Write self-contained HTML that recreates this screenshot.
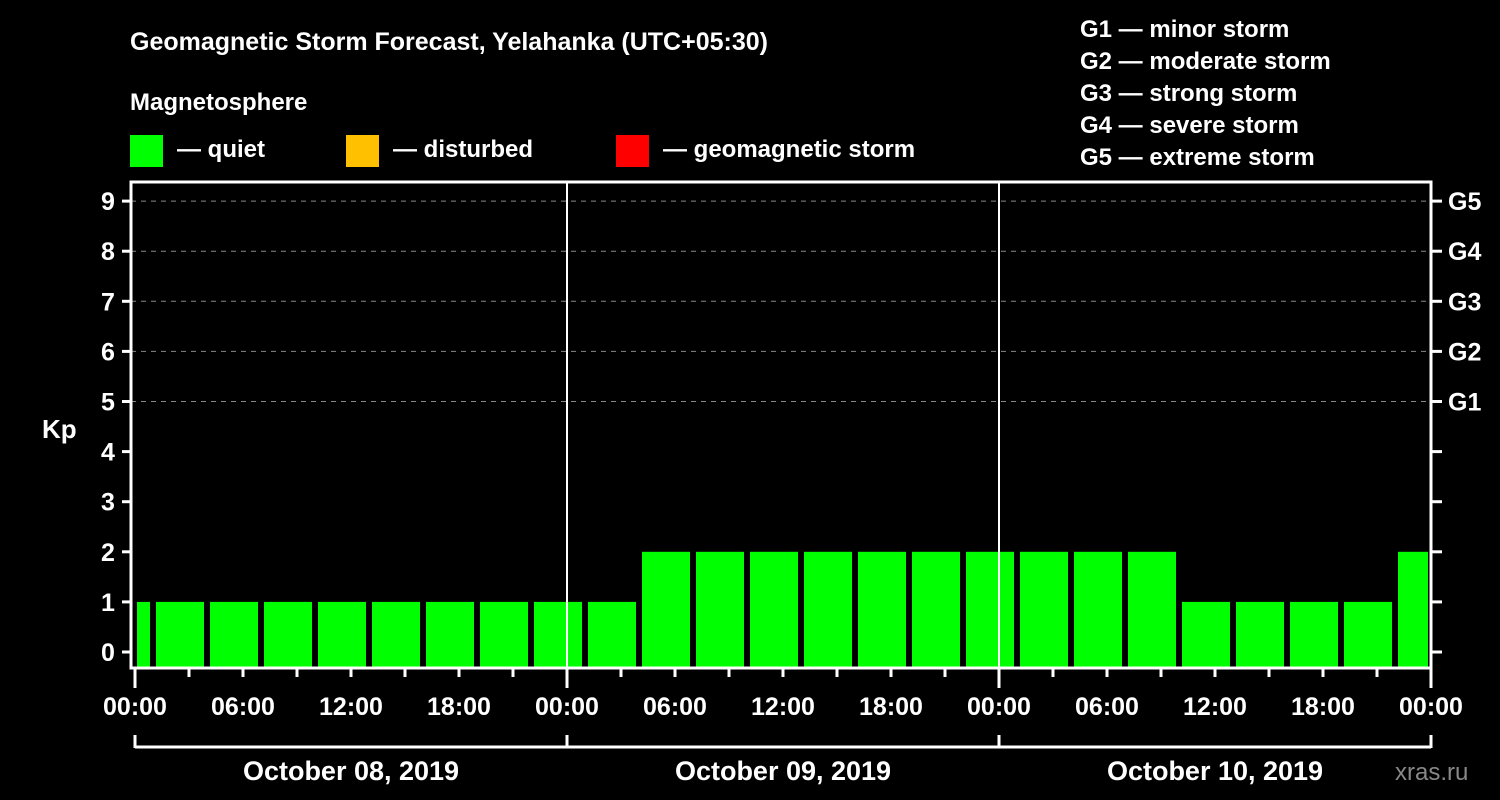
<!DOCTYPE html>
<html><head><meta charset="utf-8"><style>
body{margin:0;background:#000;width:1500px;height:800px;overflow:hidden}
svg{display:block;font-family:"Liberation Sans",sans-serif;font-weight:bold}
</style></head><body>
<svg width="1500" height="800" id="c">
<rect width="1500" height="800" fill="#000"/>
<text x="130" y="50" fill="#fff" font-size="25">Geomagnetic Storm Forecast, Yelahanka (UTC+05:30)</text>
<text x="130" y="110" fill="#fff" font-size="24">Magnetosphere</text>
<g><rect x="130" y="135" width="33" height="32" fill="#00ff00"/><text x="177" y="157" fill="#fff" font-size="24">— quiet</text></g>
<g><rect x="346" y="135" width="33" height="32" fill="#ffc000"/><text x="393" y="157" fill="#fff" font-size="24">— disturbed</text></g>
<g><rect x="616" y="135" width="33" height="32" fill="#ff0000"/><text x="663" y="157" fill="#fff" font-size="24">— geomagnetic storm</text></g>
<g fill="#fff" font-size="24">
<text x="1080" y="37">G1 — minor storm</text><text x="1080" y="69">G2 — moderate storm</text><text x="1080" y="101">G3 — strong storm</text><text x="1080" y="133">G4 — severe storm</text><text x="1080" y="165">G5 — extreme storm</text></g>
<text x="42" y="438" fill="#fff" font-size="26">Kp</text>
<text x="1395" y="780" fill="#888" font-size="24" font-weight="normal">xras.ru</text>
<g id="plot"></g>
</svg>
<script>
const kpValues=[1,1,1,1,1,1,1,1,1,1,2,2,2,2,2,2,2,2,2,2,1,1,1,1,2];
const yTicks=[0,1,2,3,4,5,6,7,8,9];
const gLabels=["G1","G2","G3","G4","G5"];
const gLevels=[5,6,7,8,9];
const timeLabels=["00:00","06:00","12:00","18:00"];
const dayLabels=["October 08, 2019","October 09, 2019","October 10, 2019"];
const L=131,R=1431,T=182,B=668,X0=135,PXH=18;
const y=v=>652-v*50.1;
const x=h=>X0+h*PXH;
const NS="http://www.w3.org/2000/svg",g=document.getElementById('plot');
function mk(t,a,txt){const e=document.createElementNS(NS,t);for(const k in a)e.setAttribute(k,a[k]);if(txt!=null)e.textContent=txt;g.appendChild(e);return e;}
// grid
gLevels.forEach(v=>{const e=mk('line',{x1:L,x2:R,y1:y(v),y2:y(v),stroke:'#888','stroke-dasharray':'5,5','stroke-width':1});

});
// bars: 3h bins starting at -1h
kpValues.forEach((v,i)=>{const h0=-1+3*(i-1)+2, s=Math.max(x(h0)+3,137), en=Math.min(x(h0+3)-3,1428);
const e=mk('rect',{x:s,y:y(v),width:en-s,height:B-y(v),fill:'#00ff00'});

});
// frame
const fr=mk('rect',{x:L,y:T,width:R-L,height:B-T,fill:'none',stroke:'#fff','stroke-width':3});


[1,2].forEach(d=>{const e=mk('line',{x1:x(24*d),x2:x(24*d),y1:T,y2:B,stroke:'#fff','stroke-width':2});

});
yTicks.forEach(v=>{mk('line',{x1:122,x2:L,y1:y(v),y2:y(v),stroke:'#fff','stroke-width':3});
mk('line',{x1:R,x2:1442,y1:y(v),y2:y(v),stroke:'#fff','stroke-width':3});
const t=mk('text',{x:108,y:y(v)+9,fill:'#fff','font-size':25,'text-anchor':'middle'},v);

});
gLabels.forEach((s,i)=>{const t=mk('text',{x:1448,y:y(gLevels[i])+9,fill:'#fff','font-size':25},s);

});
for(let h=0;h<=72;h+=3){const maj=h%6==0;mk('line',{x1:x(h),x2:x(h),y1:B,y2:B+(maj&&h%24==0?20:9),stroke:'#fff','stroke-width':3});
if(maj){const t=mk('text',{x:x(h),y:715,fill:'#fff','font-size':25,'text-anchor':'middle'},timeLabels[(h/6)%4]);

}}
mk('line',{x1:x(0),x2:x(72),y1:747,y2:747,stroke:'#fff','stroke-width':3});
[0,1,2,3].forEach(d=>mk('line',{x1:x(24*d),x2:x(24*d),y1:735,y2:748,stroke:'#fff','stroke-width':3}));
dayLabels.forEach((s,d)=>{const t=mk('text',{x:x(24*d+12),y:780,fill:'#fff','font-size':27,'text-anchor':'middle'},s);

});
</script>
</body></html>
